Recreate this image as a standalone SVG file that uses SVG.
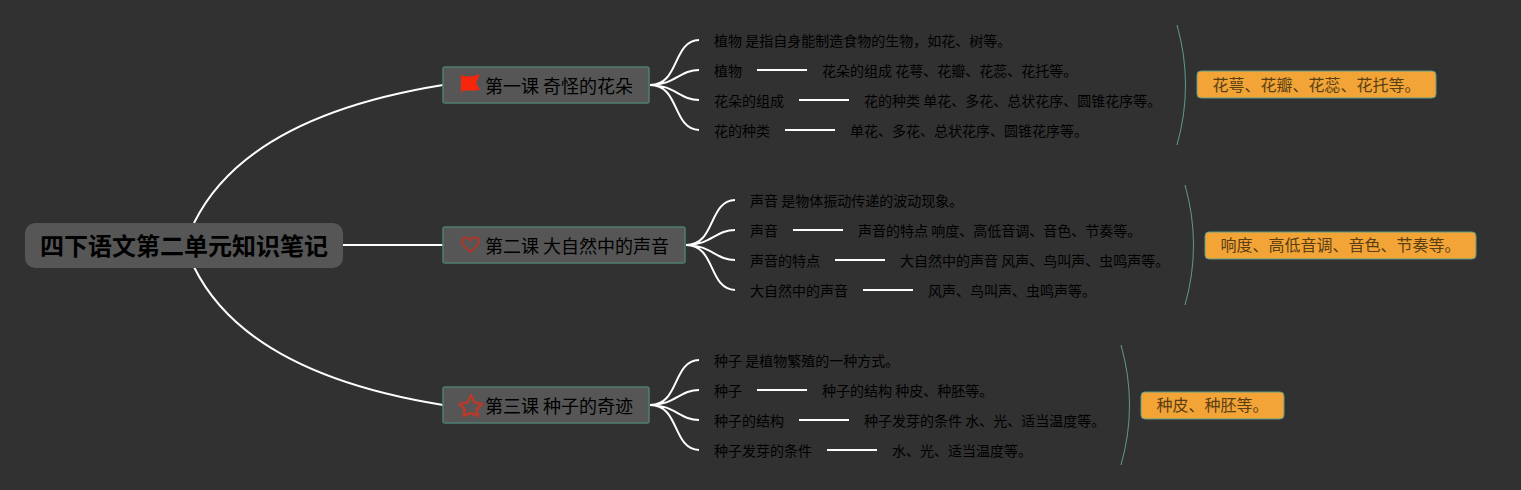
<svg xmlns="http://www.w3.org/2000/svg" width="1521" height="490" viewBox="0 0 1521 490">
<style>
text{font-family:"Noto Sans CJK SC","Noto Sans",sans-serif;fill:#000}
.t{font-size:14px}
.b{font-size:18px}
.s{font-size:16px;fill:#5a3f14}
.root{font-size:24px;font-weight:700}
.c{fill:none;stroke:#fff;stroke-width:2}
.k{fill:none;stroke:#5f9c8c;stroke-width:1}
.n{fill:#565656;stroke:#4f7d71;stroke-width:1.5}
.o{fill:#f2a437;stroke:#5f9c8c;stroke-width:1}
</style>
<rect width="1521" height="490" fill="#313131"/>
<g id="connectors">
<path class="c" d="M194 223C232 146 325 104 443 85"/>
<path class="c" d="M343 245H443"/>
<path class="c" d="M194 267C232 344 325 386 443 405"/>
<path class="c" d="M650 85C680 85 672 41 699 40M650 85C675 85 680 70 699 70M650 85C675 85 680 100 699 100M650 85C680 85 672 129 699 130"/>
<path class="c" d="M757 70H807M799 100H849M785 130H835"/>
<path class="c" d="M686 245C716 245 708 201 735 200M686 245C711 245 716 230 735 230M686 245C711 245 716 260 735 260M686 245C716 245 708 289 735 290"/>
<path class="c" d="M793 230H843M835 260H885M863 290H913"/>
<path class="c" d="M650 405C680 405 672 361 699 360M650 405C675 405 680 390 699 390M650 405C675 405 680 420 699 420M650 405C680 405 672 449 699 450"/>
<path class="c" d="M757 390H807M799 420H849M827 450H877"/>
<path class="k" d="M1177 25Q1194 85 1177 145"/>
<path class="k" d="M1185 185Q1202 245 1185 305"/>
<path class="k" d="M1121 345Q1138 405 1121 465"/>
</g>
<g id="root"><rect x="25" y="223" width="318" height="45" rx="10" fill="#565656"/><text class="root" x="40" y="255">四下语文第二单元知识笔记</text></g>
<g id="lesson1"><rect class="n" x="443" y="67" width="206" height="36" rx="2"/>
<path d="M461 75C466 77 474 77 480 74L476 83L480 90C474 91 466 90 462 91L461 95Z" fill="#f5260c"/>
<text class="b" x="485" y="93">第一课 奇怪的花朵</text></g>
<g id="lesson2"><rect class="n" x="443" y="227" width="242" height="36" rx="2"/>
<path d="M470.500 252C466 248 462 245 462 241.500C462 237 468 236 470.500 240.500C473 236 479 237 479 241.500C479 245 475 248 470.500 252Z" fill="none" stroke="#a83a2c" stroke-width="2.200"/>
<text class="b" x="485" y="253">第二课 大自然中的声音</text></g>
<g id="lesson3"><rect class="n" x="443" y="387" width="206" height="36" rx="2"/>
<path d="M471 395L474.500 402.500L482 404L476.500 409.500L478 416L471 413L463.500 416L465 409.500L459.500 404L467.500 402.500Z" fill="none" stroke="#b83a2a" stroke-width="2.500" stroke-linejoin="round"/>
<text class="b" x="485" y="413">第三课 种子的奇迹</text></g>
<g id="l1a"><text class="t" x="714" y="46">植物 是指自身能制造食物的生物，如花、树等。</text></g>
<g id="l1b"><text class="t" x="714" y="76">植物</text></g>
<g id="l1b2"><text class="t" x="822" y="76">花朵的组成 花萼、花瓣、花蕊、花托等。</text></g>
<g id="l1c"><text class="t" x="714" y="106">花朵的组成</text></g>
<g id="l1c2"><text class="t" x="864" y="106">花的种类 单花、多花、总状花序、圆锥花序等。</text></g>
<g id="l1d"><text class="t" x="714" y="136">花的种类</text></g>
<g id="l1d2"><text class="t" x="850" y="136">单花、多花、总状花序、圆锥花序等。</text></g>
<g id="l2a"><text class="t" x="750" y="206">声音 是物体振动传递的波动现象。</text></g>
<g id="l2b"><text class="t" x="750" y="236">声音</text></g>
<g id="l2b2"><text class="t" x="858" y="236">声音的特点 响度、高低音调、音色、节奏等。</text></g>
<g id="l2c"><text class="t" x="750" y="266">声音的特点</text></g>
<g id="l2c2"><text class="t" x="900" y="266">大自然中的声音 风声、鸟叫声、虫鸣声等。</text></g>
<g id="l2d"><text class="t" x="750" y="296">大自然中的声音</text></g>
<g id="l2d2"><text class="t" x="928" y="296">风声、鸟叫声、虫鸣声等。</text></g>
<g id="l3a"><text class="t" x="714" y="366">种子 是植物繁殖的一种方式。</text></g>
<g id="l3b"><text class="t" x="714" y="396">种子</text></g>
<g id="l3b2"><text class="t" x="822" y="396">种子的结构 种皮、种胚等。</text></g>
<g id="l3c"><text class="t" x="714" y="426">种子的结构</text></g>
<g id="l3c2"><text class="t" x="864" y="426">种子发芽的条件 水、光、适当温度等。</text></g>
<g id="l3d"><text class="t" x="714" y="456">种子发芽的条件</text></g>
<g id="l3d2"><text class="t" x="892" y="456">水、光、适当温度等。</text></g>
<g id="sum1"><rect class="o" x="1197" y="71" width="239" height="27" rx="4"/><text class="s" x="1212.500" y="91">花萼、花瓣、花蕊、花托等。</text></g>
<g id="sum2"><rect class="o" x="1205" y="232" width="271" height="27" rx="4"/><text class="s" x="1220.500" y="251">响度、高低音调、音色、节奏等。</text></g>
<g id="sum3"><rect class="o" x="1141" y="392" width="143" height="27" rx="4"/><text class="s" x="1156.500" y="411">种皮、种胚等。</text></g>
</svg>
